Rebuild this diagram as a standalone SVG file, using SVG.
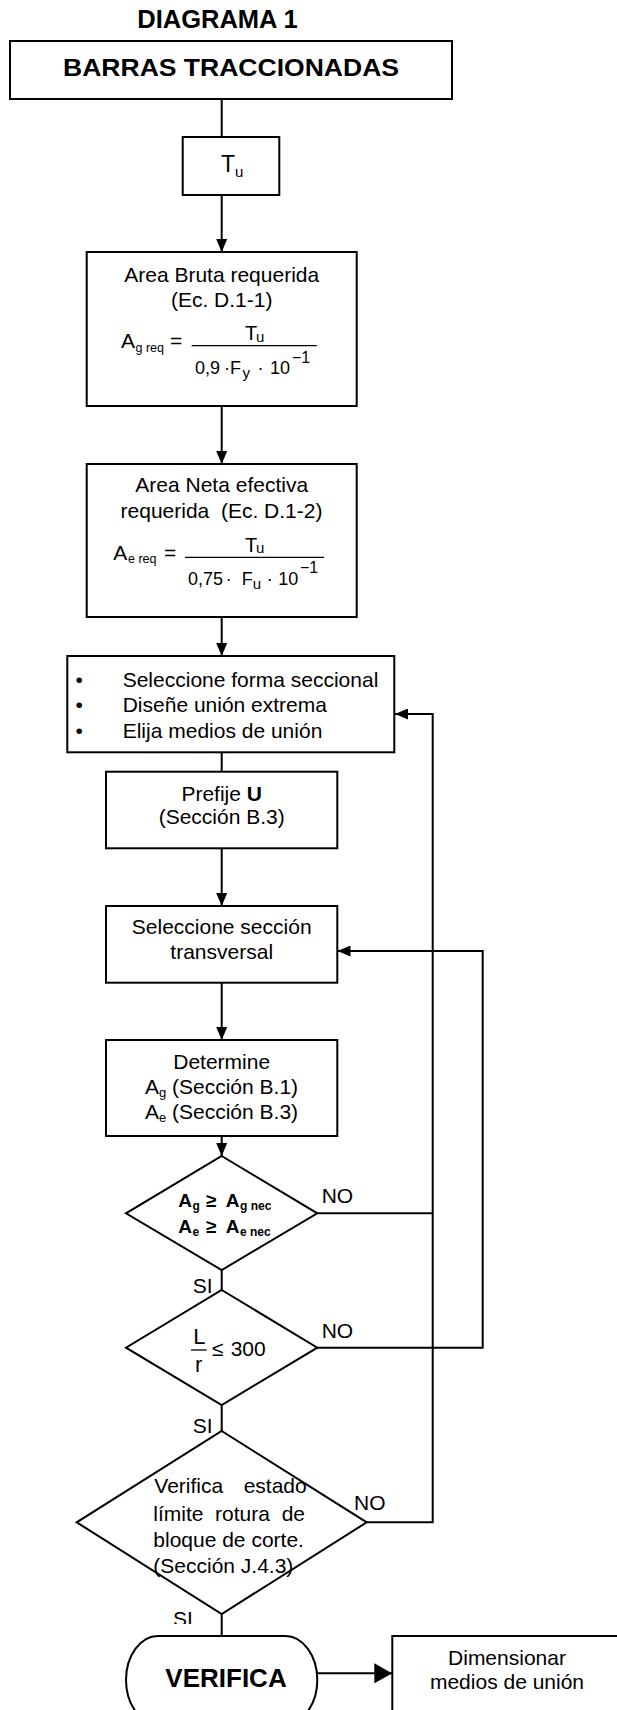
<svg xmlns="http://www.w3.org/2000/svg" width="617" height="1710" viewBox="0 0 617 1710">
<style>
.box{fill:#fff;stroke:#000;stroke-width:2}
.ln{fill:none;stroke:#000;stroke-width:2}
.fr{stroke:#000;stroke-width:1.3}
text{font-family:"Liberation Sans",Arial,sans-serif;font-size:21px;fill:#000}
.c{text-anchor:middle}
.b{font-weight:bold}
.pre{white-space:pre}
</style>
<defs>
<marker id="ah" markerUnits="userSpaceOnUse" markerWidth="13" markerHeight="11" refX="13" refY="5.5" orient="auto">
<path d="M0,0 L13,5.5 L0,11 z" fill="#000"/>
</marker>
<marker id="ahb" markerUnits="userSpaceOnUse" markerWidth="18" markerHeight="20" refX="18" refY="10" orient="auto">
<path d="M0,0 L18,10 L0,20 z" fill="#000"/>
</marker>
<clipPath id="siclip"><rect x="150" y="1600" width="80" height="24"/></clipPath>
</defs>

<text id="title" class="c b" x="217.5" y="28.3" style="font-size:25.5px">DIAGRAMA 1</text>

<g id="connectors">
<line class="ln" x1="221.7" y1="99" x2="221.7" y2="137"/>
<line class="ln" x1="221.7" y1="195" x2="221.7" y2="252" marker-end="url(#ah)"/>
<line class="ln" x1="221.7" y1="406" x2="221.7" y2="464" marker-end="url(#ah)"/>
<line class="ln" x1="221.7" y1="617" x2="221.7" y2="656" marker-end="url(#ah)"/>
<line class="ln" x1="221.7" y1="752" x2="221.7" y2="772"/>
<line class="ln" x1="221.7" y1="848" x2="221.7" y2="906" marker-end="url(#ah)"/>
<line class="ln" x1="221.7" y1="983" x2="221.7" y2="1040" marker-end="url(#ah)"/>
<line class="ln" x1="221.7" y1="1136" x2="221.7" y2="1156" marker-end="url(#ah)"/>
<line class="ln" x1="221.7" y1="1270" x2="221.7" y2="1290"/>
<line class="ln" x1="221.7" y1="1405" x2="221.7" y2="1431"/>
<line class="ln" x1="221.7" y1="1614" x2="221.7" y2="1636"/>
<line class="ln" x1="317.3" y1="1673.3" x2="392.3" y2="1673.3" marker-end="url(#ahb)"/>
<line class="ln" x1="317.3" y1="1213.3" x2="432.7" y2="1213.3"/>
<path class="ln" d="M366.7,1522.3 H432.7 V714 H395" marker-end="url(#ah)"/>
<path class="ln" d="M317.3,1347.7 H482.7 V951 H337.5" marker-end="url(#ah)"/>
</g>

<g id="barras">
<rect class="box" x="10" y="41" width="442" height="58"/>
<text class="c b" x="231" y="76" style="font-size:24px" textLength="336" lengthAdjust="spacingAndGlyphs">BARRAS TRACCIONADAS</text>
</g>

<g id="tu">
<rect class="box" x="182.7" y="137" width="96.6" height="58"/>
<text x="221" y="171.7" style="font-size:23px">T</text>
<text x="235" y="177" style="font-size:15px">u</text>
</g>

<g id="area-bruta">
<rect class="box" x="86.7" y="252" width="270" height="154"/>
<text class="c" x="221.7" y="281.7">Area Bruta requerida</text>
<text class="c" x="221.7" y="307.3">(Ec. D.1-1)</text>
<text x="121" y="348.3">A</text>
<text x="135.5" y="352" style="font-size:12.5px">g req</text>
<text x="170" y="348.3">=</text>
<line class="fr" x1="191.7" y1="345.7" x2="316.7" y2="345.7"/>
<text x="245" y="340" style="font-size:20px">T</text>
<text x="256" y="342" style="font-size:15px">u</text>
<text x="195" y="374" style="font-size:18px">0,9</text>
<text x="224" y="374" style="font-size:18px">·</text>
<text x="230" y="374" style="font-size:18px">F</text>
<text x="242.5" y="378" style="font-size:15px">y</text>
<text x="257.4" y="374" style="font-size:18px">·</text>
<text x="270" y="374" style="font-size:18px">10</text>
<text x="292" y="363.3" style="font-size:16px">−1</text>
</g>

<g id="area-neta">
<rect class="box" x="86.7" y="464" width="270" height="153"/>
<text class="c" x="221.7" y="492.3">Area Neta efectiva</text>
<text class="c pre" x="221.5" y="518.3">requerida  (Ec. D.1-2)</text>
<text x="113.3" y="560">A</text>
<text x="128" y="563.3" style="font-size:12.5px">e req</text>
<text x="164" y="560">=</text>
<line class="fr" x1="185" y1="557.3" x2="324" y2="557.3"/>
<text x="245" y="551.7" style="font-size:20px">T</text>
<text x="256" y="553" style="font-size:15px">u</text>
<text x="188" y="585" style="font-size:18px">0,75</text>
<text x="225.8" y="585" style="font-size:18px">·</text>
<text x="241.7" y="585" style="font-size:18px">F</text>
<text x="252.7" y="589.3" style="font-size:15px">u</text>
<text x="266.8" y="585" style="font-size:18px">·</text>
<text x="278.3" y="585" style="font-size:18px">10</text>
<text x="300" y="573.3" style="font-size:16px">−1</text>
</g>

<g id="seleccione-forma">
<rect class="box" x="67.3" y="656" width="327" height="96.3"/>
<text x="75.6" y="686.7">•</text>
<text x="122.7" y="686.7">Seleccione forma seccional</text>
<text x="75.6" y="712.3">•</text>
<text x="122.7" y="712.3">Diseñe unión extrema</text>
<text x="75.6" y="738.3">•</text>
<text x="122.7" y="738.3">Elija medios de unión</text>
</g>

<g id="prefije">
<rect class="box" x="106" y="771.7" width="231.3" height="76.6"/>
<text class="c" x="221.7" y="801">Prefije <tspan class="b">U</tspan></text>
<text class="c" x="221.7" y="824.3">(Sección B.3)</text>
</g>

<g id="seleccione-seccion">
<rect class="box" x="106" y="906" width="231.3" height="76.7"/>
<text class="c" x="221.7" y="934">Seleccione sección</text>
<text class="c" x="221.7" y="959">transversal</text>
</g>

<g id="determine">
<rect class="box" x="106" y="1040" width="231.3" height="96"/>
<text class="c" x="221.7" y="1069.3">Determine</text>
<text class="c pre" x="221.5" y="1094.3">A<tspan dy="3" style="font-size:13px">g</tspan><tspan dy="-3"> (Sección B.1)</tspan></text>
<text class="c pre" x="221.5" y="1119.3">A<tspan dy="3" style="font-size:13px">e</tspan><tspan dy="-3"> (Sección B.3)</tspan></text>
</g>

<g id="decision-areas">
<polygon class="box" points="221.7,1156 317.3,1213.3 221.7,1270 126,1213.3"/>
<text class="b" x="178.3" y="1206.7" style="font-size:19px">A</text>
<text class="b" x="192.5" y="1209.5" style="font-size:12px">g</text>
<text class="b" x="206" y="1206.7" style="font-size:19px">≥</text>
<text class="b" x="225.7" y="1206.7" style="font-size:19px">A</text>
<text class="b pre" x="240" y="1209.5" style="font-size:12px">g nec</text>
<text class="b" x="178.3" y="1232.7" style="font-size:19px">A</text>
<text class="b" x="192.5" y="1235.5" style="font-size:12px">e</text>
<text class="b" x="206" y="1232.7" style="font-size:19px">≥</text>
<text class="b" x="225.7" y="1232.7" style="font-size:19px">A</text>
<text class="b pre" x="240" y="1235.5" style="font-size:12px">e nec</text>
<text x="321.7" y="1203.3">NO</text>
<text x="192.7" y="1293">SI</text>
</g>

<g id="decision-esbeltez">
<polygon class="box" points="221.7,1290 317.3,1347.7 221.7,1405 126,1347.7"/>
<text x="193.3" y="1344" style="font-size:22px">L</text>
<line class="fr" x1="191" y1="1350" x2="206.7" y2="1350"/>
<text x="195" y="1371.7" style="font-size:22px">r</text>
<text x="212" y="1356">≤</text>
<text x="230.7" y="1356">300</text>
<text x="321.7" y="1337.7">NO</text>
<text x="192.7" y="1432.5">SI</text>
</g>

<g id="decision-bloque">
<polygon class="box" points="221.7,1431 366.7,1522.3 221.7,1614 76.7,1522.3"/>
<text x="154.3" y="1492.7">Verifica</text>
<text x="306.7" y="1492.7" style="text-anchor:end">estado</text>
<text x="153.3" y="1520.7">límite</text>
<text x="215.1" y="1520.7">rotura</text>
<text x="305" y="1520.7" style="text-anchor:end">de</text>
<text x="153.3" y="1546.7">bloque de corte.</text>
<text x="153.3" y="1573.3">(Sección J.4.3)</text>
<text x="354" y="1510">NO</text>
<text x="173" y="1626" clip-path="url(#siclip)">SI</text>
</g>

<g id="verifica">
<rect class="box" x="126" y="1636" width="191.3" height="88" rx="32" ry="44"/>
<text class="c b" x="226" y="1686.7" style="font-size:26px">VERIFICA</text>
</g>

<g id="dimensionar">
<rect class="box" x="392.3" y="1636" width="230" height="100"/>
<text class="c" x="507" y="1665">Dimensionar</text>
<text class="c" x="507" y="1689">medios de unión</text>
</g>
</svg>
